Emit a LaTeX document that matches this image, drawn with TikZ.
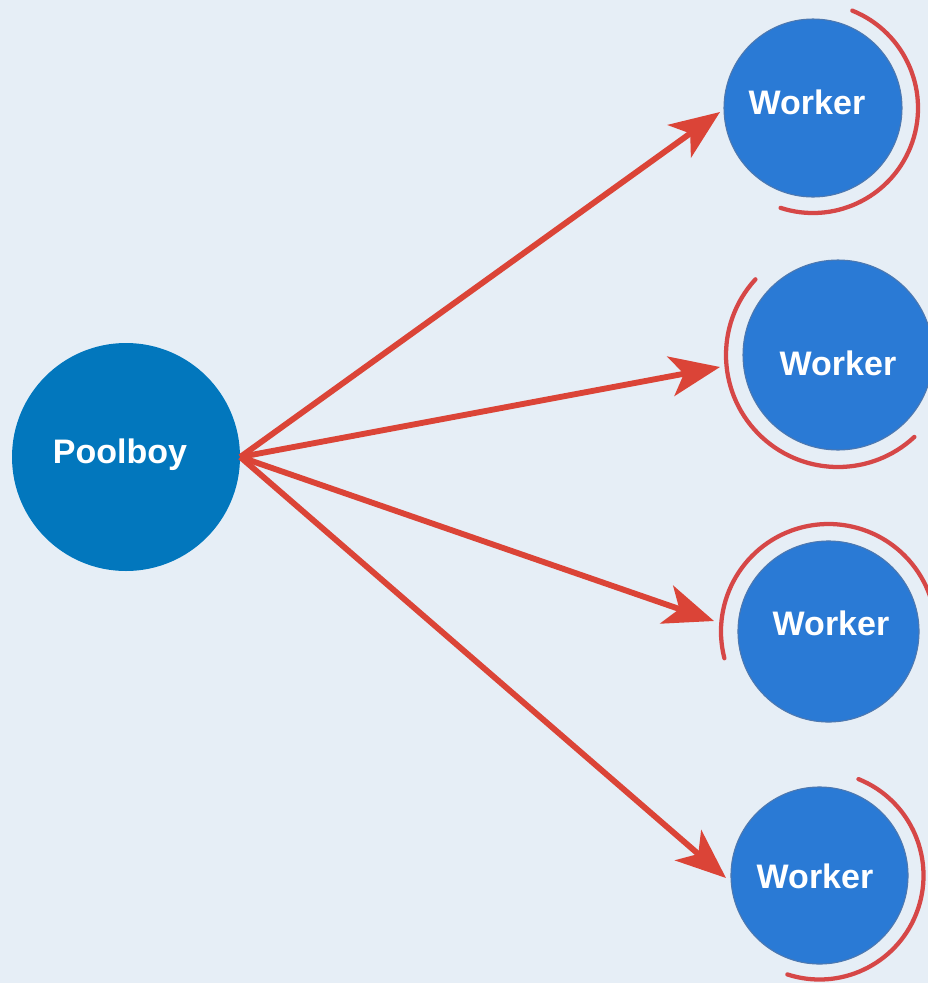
\documentclass[tikz,border=0pt]{standalone}
\usepackage{fontspec}
\setmainfont{Liberation Sans}
\usetikzlibrary{arrows.meta}

\definecolor{bgcol}{HTML}{E6EEF6}
\definecolor{poolcol}{HTML}{0277BD}
\definecolor{workcol}{HTML}{2A7AD5}
\definecolor{workedge}{HTML}{4D78B0}
\definecolor{arrowcol}{HTML}{DB4437}
\definecolor{ringcol}{HTML}{D64747}

\tikzset{
  poolnode/.style={circle, fill=poolcol, minimum size=171pt, inner sep=0pt},
  worknode/.style={circle, fill=workcol, draw=workedge, line width=0.8pt, inner sep=0pt},
  label/.style={text=white, font=\bfseries\fontsize{25.5}{30}\selectfont, inner sep=0pt},
  dispatch/.style={draw=arrowcol, line width=4.4pt,
    -{Stealth[length=37.5pt, width=30pt, inset=10pt]}},
  ring/.style={draw=ringcol, line width=3.2pt, line cap=round},
}

\begin{document}
\begin{tikzpicture}[x=0.75pt, y=-0.75pt]
\useasboundingbox (0,0) rectangle (928,983);
\begin{scope}
\clip (0,0) rectangle (928,983);
\fill[bgcol] (0,0) rectangle (928,983);

% dispatcher
\node[poolnode] (pool) at (126,457) {};
\node[label] (poolt) at (120,455) {Poolboy};

% workers
\node[worknode, minimum size=133.5pt] (w1) at (813,108) {};
\node[worknode, minimum size=142.5pt] (w2) at (838,355) {};
\node[worknode, minimum size=135.8pt] (w3) at (828.5,631.5) {};
\node[worknode, minimum size=132.8pt] (w4) at (819.5,875.5) {};

\node[label] (w1t) at (807,102) {Worker};
\node[label] (w2t) at (838,363) {Worker};
\node[label] (w3t) at (831,623) {Worker};
\node[label] (w4t) at (815,876) {Worker};

% partial rings round the workers
\draw[ring] ([shift={(-68:105)}]w1.center) arc[start angle=-68, end angle=108, radius=105];
\draw[ring] ([shift={(222.5:112)}]w2.center) arc[start angle=222.5, end angle=47, radius=112];
\draw[ring] ([shift={(165.6:107.5)}]w3.center) arc[start angle=165.6, end angle=360, radius=107.5];
\draw[ring] ([shift={(-68:104)}]w4.center) arc[start angle=-68, end angle=108, radius=104];

% arrow tips
\coordinate (t1) at (720,112);
\coordinate (t2) at (720,367);
\coordinate (t3) at (714,621);
\coordinate (t4) at (726,878);

\draw[dispatch] (pool.east) -- (t1);
\draw[dispatch] (pool.east) -- (t2);
\draw[dispatch] (pool.east) -- (t3);
\draw[dispatch] (pool.east) -- (t4);
\end{scope}
\end{tikzpicture}
\end{document}
